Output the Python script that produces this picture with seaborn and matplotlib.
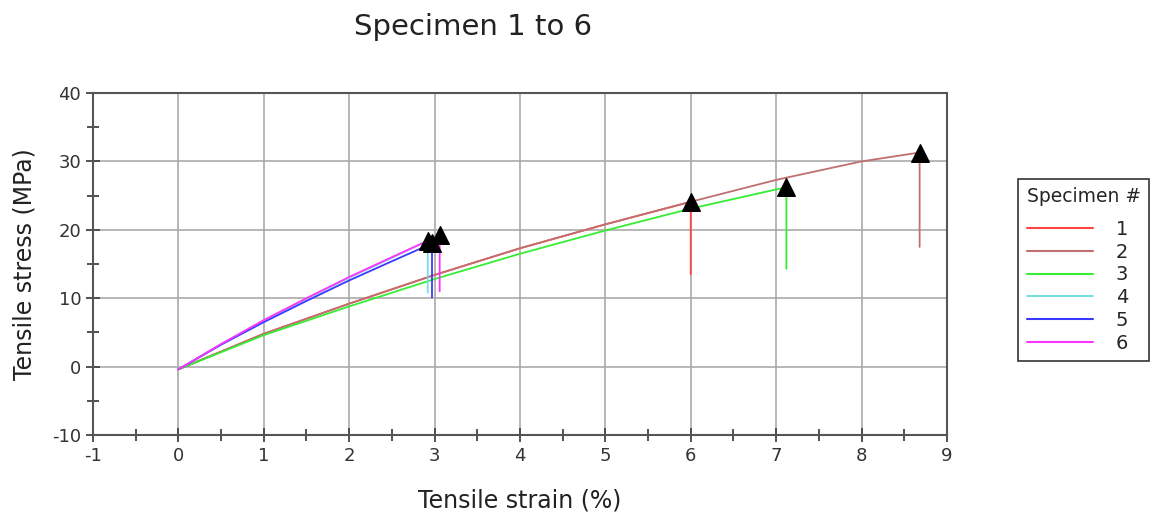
import pandas as pd
import numpy as np
import matplotlib
matplotlib.use('Agg')
import matplotlib.pyplot as plt
import seaborn as sns
from matplotlib.ticker import MultipleLocator

# strain (%) / stress (MPa), last point = drop after break
strain_1 = [0, 1, 2, 3, 4, 5, 6.0, 6.0]
stress_1 = [-0.4, 4.8, 9.2, 13.4, 17.3, 20.8, 24.1, 13.5]
strain_2 = [0, 1, 2, 3, 4, 5, 6, 7, 8, 8.68, 8.68]
stress_2 = [-0.4, 4.8, 9.2, 13.4, 17.3, 20.8, 24.1, 27.3, 30.0, 31.3, 17.5]
strain_3 = [0, 1, 2, 3, 4, 5, 6, 7, 7.12, 7.12]
stress_3 = [-0.4, 4.6, 8.8, 12.8, 16.5, 19.9, 23.1, 25.9, 26.2, 14.3]
strain_4 = [0, 0.5, 1, 1.5, 2, 2.5, 2.92, 2.92]
stress_4 = [-0.4, 3.3, 6.7, 9.9, 13.0, 15.9, 18.4, 10.8]
strain_5 = [0, 0.5, 1, 1.5, 2, 2.5, 2.97, 2.97]
stress_5 = [-0.4, 3.2, 6.5, 9.6, 12.6, 15.4, 18.0, 10.1]
strain_6 = [0, 0.5, 1, 1.5, 2, 2.5, 3.06, 3.06]
stress_6 = [-0.4, 3.3, 6.8, 10.0, 13.1, 16.0, 19.2, 11.0]

specimens = ['1', '2', '3', '4', '5', '6']
strains = [strain_1, strain_2, strain_3, strain_4, strain_5, strain_6]
stresses = [stress_1, stress_2, stress_3, stress_4, stress_5, stress_6]
colors = {'1': '#ff4444', '2': '#c07070', '3': '#33ee33',
          '4': '#77dddd', '5': '#3a3aff', '6': '#ff33ff'}

rows = []
for name, xs, ys in zip(specimens, strains, stresses):
    for x, y in zip(xs, ys):
        rows.append({'Specimen #': name, 'strain': x, 'stress': y})
df = pd.DataFrame(rows)

# break points (max stress) for the triangle markers
breaks = df.loc[df.groupby('Specimen #')['stress'].idxmax()]

sns.set_style('white')
plt.rcParams['axes.unicode_minus'] = False
fig = plt.figure(figsize=(11.52, 5.19), dpi=100)
ax = fig.add_axes([0.0807, 0.1618, 0.7413, 0.659])

sns.lineplot(data=df, x='strain', y='stress', hue='Specimen #', units='Specimen #',
             estimator=None, sort=False, palette=colors, linewidth=1.3, ax=ax)
sns.scatterplot(data=breaks, x='strain', y='stress', marker='^', s=160,
                color='black', edgecolor='black', zorder=5, legend=False, ax=ax)

ax.set_xlim(-1, 9)
ax.set_ylim(-10, 40)
ax.xaxis.set_major_locator(MultipleLocator(1))
ax.xaxis.set_minor_locator(MultipleLocator(0.5))
ax.yaxis.set_major_locator(MultipleLocator(10))
ax.yaxis.set_minor_locator(MultipleLocator(5))
ax.grid(True, which='major', color='#aaaaaa', linewidth=1.2)
ax.tick_params(which='both', direction='inout', bottom=True, left=True,
               colors='#444444', labelcolor='#333333', labelsize=13)
ax.tick_params(which='major', length=10, width=1.3)
ax.tick_params(which='minor', length=9, width=1.3)
for sp in ax.spines.values():
    sp.set_color('#555555')
    sp.set_linewidth(1.5)

ax.set_xlabel('Tensile strain (%)', fontsize=17, labelpad=17, color='#222222')
ax.set_ylabel('Tensile stress (MPa)', fontsize=17, labelpad=11, color='#222222')
fig.text(0.411, 0.948, 'Specimen 1 to 6', fontsize=21, ha='center', va='center',
         color='#222222')

handles, labels = ax.get_legend_handles_labels()
leg = ax.legend(handles, labels, title='Specimen #', loc='upper left',
                bbox_to_anchor=(0.884, 0.655), bbox_transform=fig.transFigure,
                borderaxespad=0, fontsize=14, title_fontsize=13.5, handlelength=3.4,
                handletextpad=1.2, labelspacing=0.19, fancybox=False,
                framealpha=1, alignment='left', borderpad=0.42)
leg._legend_box.sep = 10
leg.get_frame().set_edgecolor('#333333')
leg.get_frame().set_linewidth(1.2)
for line in leg.get_lines():
    line.set_linewidth(1.5)

fig.savefig('out.png', dpi=100)
